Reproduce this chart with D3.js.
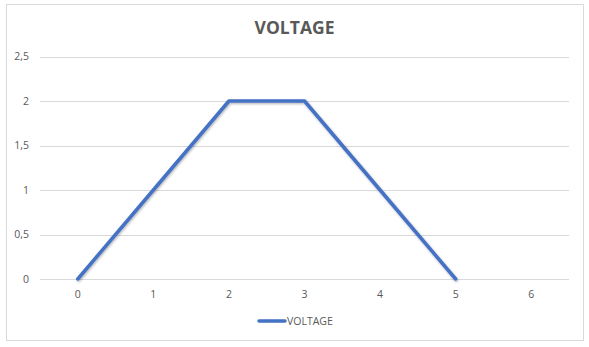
<!DOCTYPE html>
<html><head><meta charset="utf-8">
<script src="https://cdn.jsdelivr.net/npm/d3@7"></script>
<style>html,body{margin:0;padding:0;background:#fff;}svg{display:block;}</style>
</head><body>
<svg id="c" width="589" height="347"></svg>
<script>
const categories = ["0","1","2","3","4","5","6"];
const voltage = [0, 1, 2, 2, 1, 0, null];
const yTicks = [0, 0.5, 1, 1.5, 2, 2.5];
const seriesName = "VOLTAGE";
const title = "VOLTAGE";

const svg = d3.select("#c");
const W = 589, H = 347;
const font = "'Open Sans', 'Liberation Sans', sans-serif";
const gray = "#595959", grid = "#d9d9d9", blue = "#4472C4";

svg.append("rect").attr("x", 6.5).attr("y", 4.5).attr("width", 577).attr("height", 336)
  .attr("fill", "#fff").attr("stroke", "#d9d9d9").attr("stroke-width", 1);

const x = d3.scaleBand().domain(categories).range([40, 569]);
const y = d3.scaleLinear().domain([0, 2.5]).range([279, 56.5]);

// gridlines
svg.append("g").selectAll("line").data(yTicks).join("line")
  .attr("x1", 40).attr("x2", 569)
  .attr("y1", d => Math.round(y(d)) + 0.5).attr("y2", d => Math.round(y(d)) + 0.5)
  .attr("stroke", grid).attr("stroke-width", 1);

// y labels
const fmt = d => String(d).replace(".", ",");
svg.append("g").selectAll("text").data(yTicks).join("text")
  .attr("x", 29).attr("y", d => y(d)).attr("dy", "0.35em")
  .attr("text-anchor", "end").attr("fill", gray)
  .style("font-family", font).style("font-size", "10.5px").text(fmt);

// x labels
svg.append("g").selectAll("text").data(categories).join("text")
  .attr("x", d => x(d) + x.bandwidth() / 2).attr("y", 294).attr("dy", "0.35em")
  .attr("text-anchor", "middle").attr("fill", gray)
  .style("font-family", font).style("font-size", "10.5px").text(d => d);

// line
const pts = categories.map((c, i) => ({c, v: voltage[i]}));
const line = d3.line().defined(d => d.v != null)
  .x(d => x(d.c) + x.bandwidth() / 2).y(d => y(d.v));

const defs = svg.append("defs");
const f = defs.append("filter").attr("id", "sh").attr("x", "-10%").attr("y", "-10%").attr("width", "120%").attr("height", "120%");
f.append("feDropShadow").attr("dx", 0.8).attr("dy", 1.2).attr("stdDeviation", 1).attr("flood-color", "#000").attr("flood-opacity", 0.3);

svg.append("path").datum(pts).attr("d", line)
  .attr("fill", "none").attr("stroke", blue).attr("stroke-width", 3.5)
  .attr("stroke-linejoin", "round").attr("stroke-linecap", "round")
  .attr("filter", "url(#sh)");

// title
svg.append("text").attr("x", 294.5).attr("y", 34).attr("text-anchor", "middle")
  .attr("fill", gray).style("font-family", font).style("font-size", "17.5px")
  .style("font-weight", "bold").text(title);

// legend
svg.append("line").attr("x1", 259).attr("x2", 285).attr("y1", 321).attr("y2", 321)
  .attr("stroke", blue).attr("stroke-width", 3.5).attr("stroke-linecap", "round");
svg.append("text").attr("x", 287).attr("y", 321).attr("dy", "0.35em")
  .attr("fill", gray).style("font-family", font).style("font-size", "10.5px").text(seriesName);
</script>
</body></html>
